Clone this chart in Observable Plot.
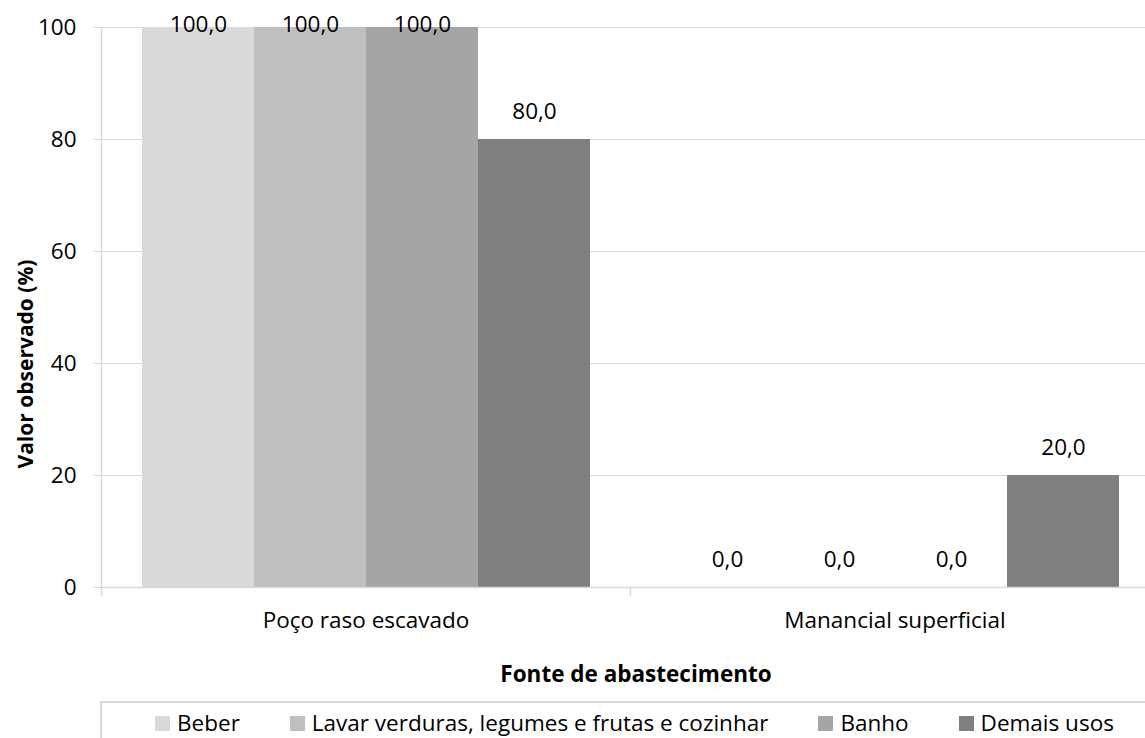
<!DOCTYPE html>
<html>
<head>
<meta charset="utf-8">
<script src="https://cdn.jsdelivr.net/npm/d3@7"></script>
<script src="https://cdn.jsdelivr.net/npm/@observablehq/plot@0.6"></script>
<style>
  html, body { margin: 0; padding: 0; background: #fff; overflow: hidden; }
  body { font-family: "Open Sans", sans-serif; color: #000; }
  #wrap { position: relative; width: 1145px; height: 738px; overflow: hidden; }
  #chart { position: absolute; left: 0; top: 0; }
  #ytitle { position: absolute; left: 25px; top: 364px; transform: translate(-50%, -50%) rotate(-90deg);
            font-weight: 700; font-size: 21px; white-space: nowrap; }
  #xtitle { position: absolute; left: 636px; top: 673px; transform: translate(-50%, -50%);
            font-weight: 700; font-size: 22.5px; white-space: nowrap; }
  #legend { position: absolute; left: 100px; top: 701px; width: 1067px; height: 60px; box-sizing: border-box;
            border-top: 2px solid #d9d9d9; border-left: 2px solid #d9d9d9;
            display: flex; justify-content: center; align-items: flex-start; padding-top: 5px; gap: 50px;
            font-size: 22.5px; line-height: 30px; }
  .item { display: flex; align-items: center; white-space: nowrap; }
  .sw { width: 15px; height: 15px; margin-right: 7px; }
</style>
</head>
<body>
<div id="wrap">
  <div id="chart"></div>
  <div id="ytitle">Valor observado (%)</div>
  <div id="xtitle">Fonte de abastecimento</div>
  <div id="legend"></div>
</div>
<script>
const groups = ["Poço raso escavado", "Manancial superficial"];
const series = ["Beber", "Lavar verduras, legumes e frutas e cozinhar", "Banho", "Demais usos"];
const valuesPoco = [100, 100, 100, 80];
const valuesManancial = [0, 0, 0, 20];
const colors = ["#d9d9d9", "#bfbfbf", "#a5a5a5", "#7f7f7f"];
const yTicks = [0, 20, 40, 60, 80, 100];

const data = [];
groups.forEach((g, gi) => {
  const vals = gi === 0 ? valuesPoco : valuesManancial;
  series.forEach((s, si) => data.push({group: g, series: s, value: vals[si]}));
});

const fmt = v => v.toFixed(1).replace(".", ",");

const W = 1145, H = 700, mL = 101, mT = 27, mB = 113;
const plotRight = 1159; // Excel plot area extends slightly past the crop
const plotH = H - mT - mB;
const gridColor = "#d9d9d9";

const chart = Plot.plot({
  width: W, height: H,
  marginLeft: mL, marginRight: 0, marginTop: mT, marginBottom: mB,
  style: {fontFamily: '"Open Sans", sans-serif', fontSize: "22.5px", color: "#000", background: "#fff"},
  fx: {domain: groups, range: [mL, plotRight], padding: 0, axis: null, label: null},
  x: {domain: series, paddingInner: 0, paddingOuter: 0.351, axis: null},
  y: {domain: [0, 100], axis: null},
  color: {domain: series, range: colors},
  marks: [
    Plot.gridY(yTicks, {stroke: gridColor, strokeOpacity: 1}),
    Plot.barY(data, {fx: "group", x: "series", y: "value", fill: "series"}),
    Plot.ruleY([0], {stroke: gridColor, strokeWidth: 1.5}),
    Plot.frame({anchor: "left", stroke: gridColor, strokeWidth: 1.5, insetBottom: -8, fx: () => groups[0]}),
    Plot.frame({anchor: "left", stroke: gridColor, strokeWidth: 1.5, insetTop: plotH, insetBottom: -8, fx: () => groups[1]}),
    Plot.axisY({ticks: yTicks, tickSize: 8, tickPadding: 17, stroke: gridColor, fill: "#000", label: null, tickFormat: d => String(d)}),
    Plot.axisFx({anchor: "bottom", tickSize: 0, tickPadding: 25, label: null, fill: "#000"}),
    Plot.text(data.filter(d => d.value < 100), {fx: "group", x: "series", y: "value", text: d => fmt(d.value), dy: -28, fill: "#000"}),
    Plot.text(data.filter(d => d.value >= 100), {fx: "group", x: "series", y: "value", text: d => fmt(d.value), dy: -3, fill: "#000"})
  ]
});
document.getElementById("chart").appendChild(chart);

const legend = document.getElementById("legend");
series.forEach((s, i) => {
  const it = document.createElement("div");
  it.className = "item";
  const sw = document.createElement("span");
  sw.className = "sw";
  sw.style.background = colors[i];
  const t = document.createElement("span");
  t.textContent = s;
  it.appendChild(sw); it.appendChild(t);
  legend.appendChild(it);
});
</script>
</body>
</html>
